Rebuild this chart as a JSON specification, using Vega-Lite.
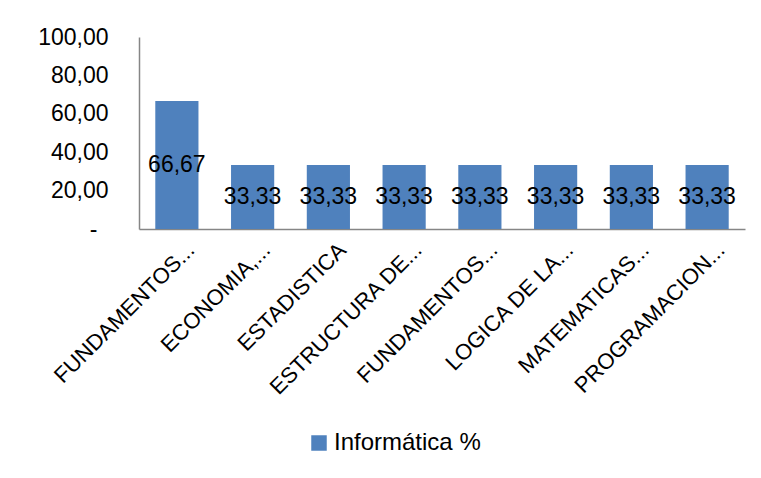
{
  "$schema": "https://vega.github.io/schema/vega-lite/v6.json",
  "width": 606,
  "height": 192,
  "autosize": {"type": "none"},
  "padding": {"left": 139, "top": 37, "right": 16, "bottom": 249},
  "background": "white",
  "config": {
    "view": {"stroke": null},
    "font": "Liberation Sans",
    "axisY": {
      "labelOverlap": false,
      "labelFlush": false,
      "grid": false,
      "ticks": false,
      "labelFontSize": 23,
      "labelColor": "black",
      "domainColor": "#868686",
      "domainWidth": 1.5
    }
  },
  "data": {
    "values": [
      {"subject": "FUNDAMENTOS...", "value": 66.67},
      {"subject": "ECONOMIA,...", "value": 33.33},
      {"subject": "ESTADISTICA", "value": 33.33},
      {"subject": "ESTRUCTURA DE...", "value": 33.33},
      {"subject": "FUNDAMENTOS... ", "value": 33.33},
      {"subject": "LOGICA DE LA...", "value": 33.33},
      {"subject": "MATEMATICAS...", "value": 33.33},
      {"subject": "PROGRAMACION...", "value": 33.33}
    ]
  },
  "transform": [
    {"calculate": "datum.value / 2", "as": "mid"},
    {"calculate": "replace(format(datum.value, '.2f'), '.', ',')", "as": "label"}
  ],
  "encoding": {
    "x": {
      "field": "subject",
      "type": "nominal",
      "sort": null,
      "scale": {"paddingInner": 0.43, "paddingOuter": 0.215},
      "axis": {
        "title": null,
        "labelAngle": -45,
        "labelFontSize": 22,
        "labelColor": "black",
        "labelLimit": 400,
        "labelPadding": 10,
        "labelOffset": 7,
        "labelOverlap": false,
        "labelExpr": "trim(datum.label)",
        "ticks": false,
        "domainColor": "#868686",
        "domainWidth": 1.5
      }
    }
  },
  "layer": [
    {
      "mark": {"type": "bar"},
      "encoding": {
        "y": {
          "field": "value",
          "type": "quantitative",
          "scale": {"domain": [0, 100]},
          "axis": {
            "title": null,
            "values": [0, 20, 40, 60, 80, 100],
            "labelOverlap": false,
            "labelPadding": {"condition": {"test": "datum.value == 0", "value": 42}, "value": 31},
            "labelExpr": "datum.value == 0 ? '-' : replace(format(datum.value, '.2f'), '.', ',')"
          }
        },
        "color": {
          "datum": "Informática %",
          "type": "nominal",
          "scale": {"range": ["#4F81BD"]},
          "legend": {
            "title": null,
            "orient": "none",
            "legendX": 168,
            "legendY": 394,
            "padding": 0,
            "symbolType": "square",
            "symbolSize": 240,
            "symbolStrokeWidth": 0,
            "symbolOpacity": 1,
            "labelFontSize": 24,
            "labelColor": "black",
            "labelOffset": 3
          }
        }
      }
    },
    {
      "mark": {"type": "text", "fontSize": 23, "color": "black", "baseline": "middle", "align": "center"},
      "encoding": {
        "y": {
          "field": "mid",
          "type": "quantitative",
          "axis": {
            "title": null,
            "values": [0, 20, 40, 60, 80, 100],
            "labelOverlap": false,
            "labelPadding": {"condition": {"test": "datum.value == 0", "value": 42}, "value": 31},
            "labelExpr": "datum.value == 0 ? '-' : replace(format(datum.value, '.2f'), '.', ',')"
          }
        },
        "text": {"field": "label", "type": "nominal"}
      }
    }
  ]
}
